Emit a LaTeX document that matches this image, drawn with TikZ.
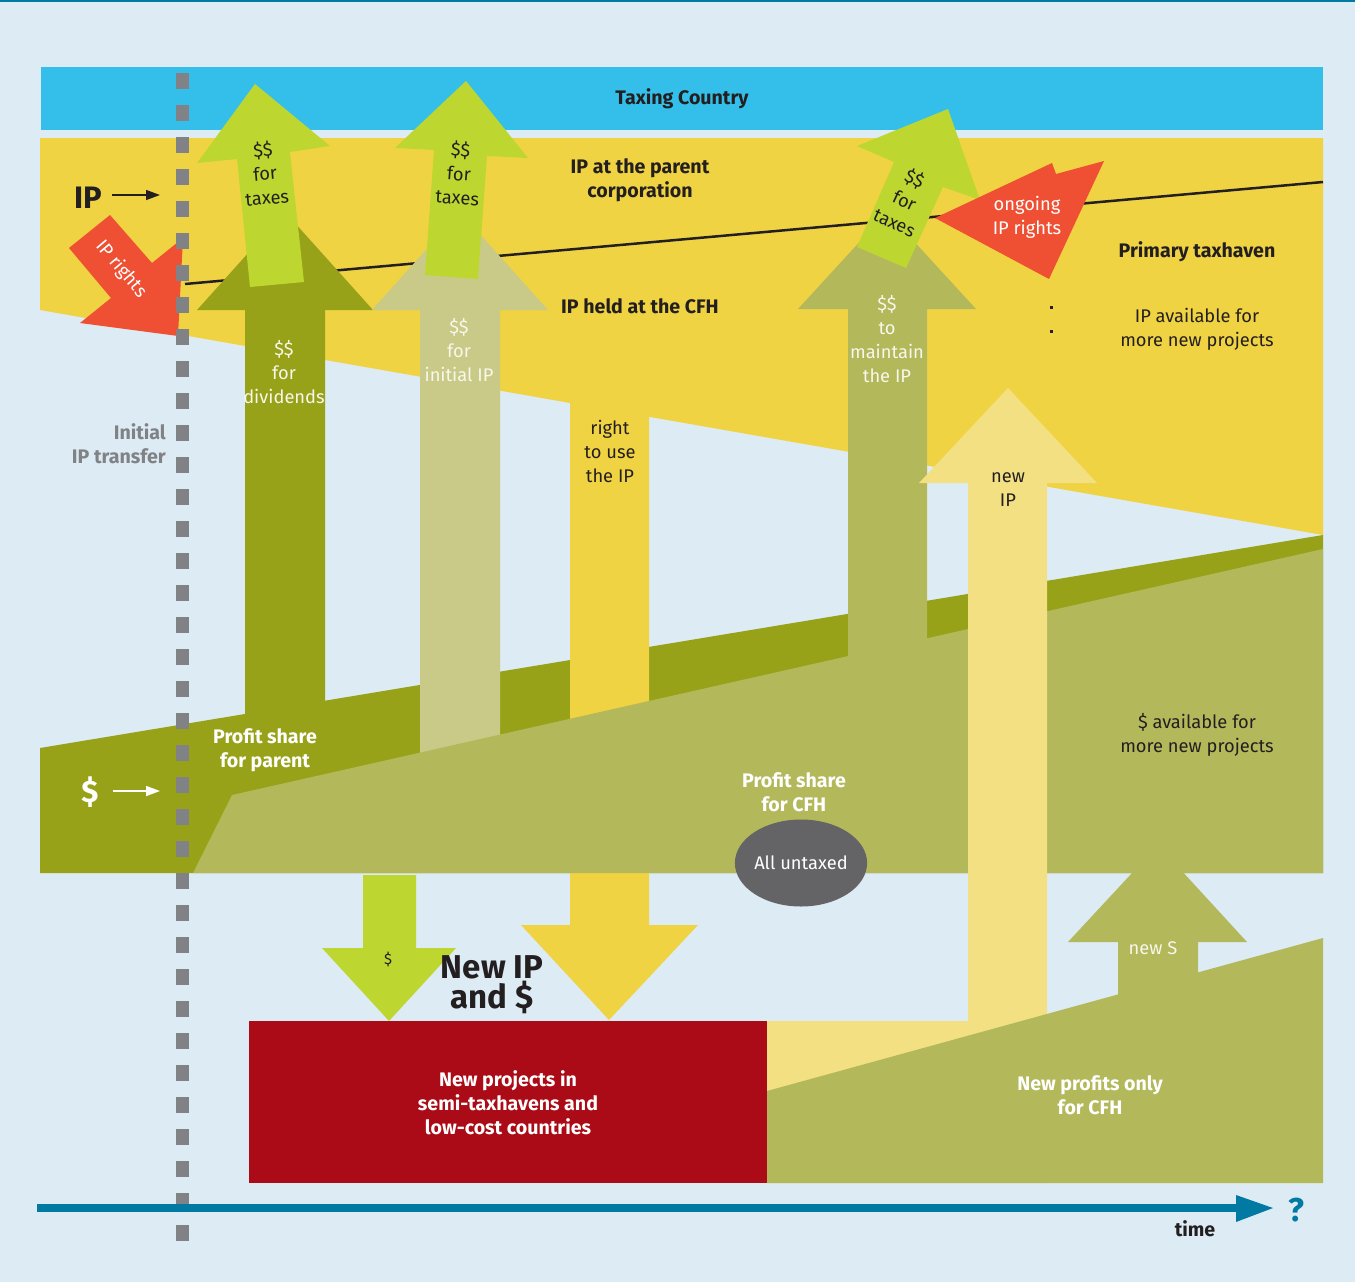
\documentclass[tikz,border=0pt]{standalone}
\usepackage{fontspec}
\setmainfont{Fira Sans}
\usetikzlibrary{arrows.meta,shapes.geometric}
\definecolor{bgblue}{HTML}{DDEBF4}
\definecolor{barblue}{HTML}{33BFEA}
\definecolor{band}{HTML}{F0D342}
\definecolor{dkgreen}{HTML}{97A219}
\definecolor{ltgreen}{HTML}{B3B85B}
\definecolor{tan}{HTML}{C9CA87}
\definecolor{lime}{HTML}{BED730}
\definecolor{paley}{HTML}{F3E083}
\definecolor{redarr}{HTML}{EF4F32}
\definecolor{redbox}{HTML}{AA0B16}
\definecolor{dashgray}{HTML}{808285}
\definecolor{ellgray}{HTML}{646466}
\definecolor{teal}{HTML}{0079A3}
\definecolor{ink}{HTML}{231F20}
\definecolor{softwhite}{HTML}{F7F7EC}
\begin{document}
\begin{tikzpicture}[x=1pt,y=-1pt,
  txt/.style={align=center,inner sep=0pt,text=ink,font=\fontsize{18.3}{24}\selectfont},
  wtxt/.style={txt,text=softwhite},
  btxt/.style={align=center,inner sep=0pt,text=ink,font=\fontsize{19.6}{24}\selectfont\bfseries},
  wbtxt/.style={btxt,text=white},
]
\useasboundingbox (0,0) rectangle (1355,1282);
\fill[bgblue] (0,0) rectangle (1355,1282);
\fill[teal] (0,0) rectangle (1355,2);
% taxing country bar
\fill[barblue] (41,67) rectangle (1323,130);
% primary taxhaven band
\fill[band] (40,138) -- (1323,138) -- (1323,535) -- (40,310) -- cycle;
% IP boundary line
\draw[ink,line width=2.5pt] (185,284) -- (1323,182);
% dark green band
\fill[dkgreen] (40,748) -- (1323,535) -- (1323,873) -- (40,873) -- cycle;
% dividends arrow
\fill[dkgreen] (245,760) -- (245,310) -- (197,310) -- (285,212) -- (373,310) -- (325,310) -- (325,760) -- cycle;
% initial IP arrow
\fill[tan] (420,760) -- (420,310) -- (372,310) -- (460,212) -- (548,310) -- (500,310) -- (500,760) -- cycle;
% right to use arrow
\fill[band] (570,400) -- (649,400) -- (649,925) -- (698,925) -- (609,1020) -- (521,925) -- (570,925) -- cycle;
% maintain arrow
\fill[ltgreen] (848,760) -- (848,309) -- (798,309) -- (887,212) -- (976,309) -- (927,309) -- (927,760) -- cycle;
% light green band (CFH)
\fill[ltgreen] (193,873) -- (232,795) -- (1323,549) -- (1323,873) -- cycle;
% new IP arrow and pale region
\fill[paley] (968,1021) -- (968,483) -- (919,483) -- (1008,388) -- (1097,483) -- (1047,483) -- (1047,1183) -- (767,1183) -- (767,1021) -- cycle;
% new profits region and new S arrow
\fill[ltgreen] (767,1091) -- (1323,938) -- (1323,1183) -- (767,1183) -- cycle;
\fill[ltgreen] (1118,1000) -- (1118,942) -- (1068,942) -- (1158,845) -- (1247,942) -- (1198,942) -- (1198,990) -- cycle;
% lime down arrow
\fill[lime] (363,875) -- (416,875) -- (416,948) -- (456,948) -- (389,1021) -- (322,948) -- (363,948) -- cycle;
% red box
\fill[redbox] (249,1021) rectangle (767,1183);
% lime up arrows
\fill[lime] (250,287) -- (237,159) -- (197,163) -- (255,84) -- (330,146) -- (290,152) -- (304,282) -- cycle;
\fill[lime] (425,275) -- (434,150) -- (395,148) -- (466,81) -- (528,158) -- (487,156) -- (478,279) -- cycle;
\fill[lime] (857,247) -- (894,162) -- (857,146) -- (948,109) -- (980,200) -- (943,187) -- (906,268) -- cycle;
% red arrows
\fill[redarr] (935,218) -- (1052,163) -- (1056,174) -- (1104,161) -- (1049,279) -- cycle;
\fill[redarr] (69,248) -- (110,215) -- (152,263) -- (183,238) -- (178,336) -- (80,323) -- (111,298) -- cycle;
% dashed vertical
\foreach \k in {0,...,36} {\fill[dashgray] (176,73+32*\k) rectangle (189,89+32*\k);}
% time axis
\coordinate (tstart) at (37,1208);
\coordinate (tend) at (1240,1208);
\draw[teal,line width=7.5pt] (tstart) -- (tend);
\fill[teal] (1236,1195) -- (1273,1208) -- (1236,1222) -- cycle;
% ellipse
\node[ellipse,fill=ellgray,minimum width=113pt,minimum height=87pt,inner sep=0pt,text=white,font=\fontsize{18.3}{22}\selectfont] (untaxed) at (801,863) {All untaxed};
% texts
\node[btxt] (taxing) at (682,99) {Taxing Country};
\node[txt,rotate=5] (tax1) at (265,173) {\$\$\\for\\taxes};
\node[txt,rotate=-4] (tax2) at (459,173) {\$\$\\for\\taxes};
\node[txt,rotate=-25] (tax3) at (905,200) {\$\$\\for\\taxes};
\node[btxt] (parent) at (640,180) {IP at the parent\\corporation};
\node[btxt] (cfhip) at (640,306) {IP held at the CFH};
\node[txt,text=white] (ongoing) at (1027,217) {ongoing\\IP rights};
\node[btxt] (primary) at (1197,252) {Primary taxhaven};
\node[txt] (ipavail) at (1197,329) {IP available for\\more new projects};
\fill[ink] (1049.5,305.5) rectangle (1052.5,308.5);
\fill[ink] (1049.5,329.5) rectangle (1052.5,332.5);
\node[align=center,inner sep=0pt,text=ink,font=\fontsize{31}{31}\selectfont\bfseries] (iplbl) at (88,198) {IP};
\coordinate (ipend) at (160,195);
\draw[ink,line width=1.5pt,-{Triangle[length=14pt,width=10pt]}] ([xshift=10pt]iplbl.east |- ipend) -- (ipend);
\node[txt,text=white,rotate=-50] (iprights) at (121,269) {IP rights};
\node[wtxt] (divid) at (284,372) {\$\$\\for\\dividends};
\node[wtxt] (initial) at (459,350) {\$\$\\for\\initial IP};
\node[txt] (rightuse) at (610,451) {right\\to use\\the IP};
\node[wtxt] (maintain) at (887,339) {\$\$\\to\\maintain\\the IP};
\node[txt] (newip) at (1008,490) {new\\IP};
\node[btxt,text=dashgray,align=right,anchor=east] (initlbl) at (166,444) {Initial\\IP transfer};
\node[wbtxt] (psparent) at (265,750) {Profit share\\for parent};
\node[align=center,inner sep=0pt,text=white,font=\fontsize{31}{31}\selectfont\bfseries] (dollar) at (90,792) {\$};
\coordinate (dend) at (160,791);
\draw[white,line width=1.5pt,-{Triangle[length=14pt,width=10pt]}] ([xshift=14pt]dollar.east |- dend) -- (dend);
\node[wbtxt] (pscfh) at (794,792) {Profit share\\for CFH};
\node[txt] (savail) at (1197,735) {\$ available for\\more new projects};
\node[align=center,inner sep=0pt,text=ink,font=\fontsize{33}{30}\selectfont\bfseries] (newipd) at (492,985) {New IP\\and \$};
\node[txt,font=\fontsize{15}{18}\selectfont] (smalld) at (388,959) {\$};
\node[wbtxt] (projects) at (508,1103) {New projects in\\semi-taxhavens and\\low-cost countries};
\node[wtxt] (news) at (1153,948) {new S};
\node[wbtxt] (newprof) at (1090,1095) {New profits only\\for CFH};
\node[btxt] (time) at (1195,1229) {time};
\node[align=center,inner sep=0pt,text=teal,font=\fontsize{33}{33}\selectfont\bfseries] (qmark) at (1296,1210) {?};
\end{tikzpicture}
\end{document}
